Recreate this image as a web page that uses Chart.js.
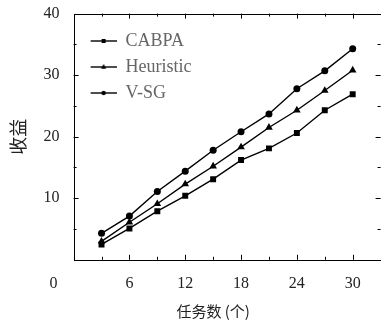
<!DOCTYPE html>
<html lang="zh-CN">
<head>
<meta charset="UTF-8">
<title>收益</title>
<script src="https://cdn.jsdelivr.net/npm/chart.js"></script>
<style>
  html, body { margin: 0; padding: 0; background: #fff; overflow: hidden; }
  #wrap { width: 385px; height: 325px; }
</style>
</head>
<body>
<div id="wrap"><canvas id="chart" width="385" height="325"></canvas></div>
<script>
// 数据
const taskCounts = [3, 6, 9, 12, 15, 18, 21, 24, 27, 30];
const cabpa     = [2.5, 5.1, 7.9, 10.4, 13.1, 16.2, 18.1, 20.6, 24.3, 26.9];
const heuristic = [3.0, 6.1, 9.1, 12.3, 15.2, 18.3, 21.5, 24.3, 27.5, 30.8];
const vsg       = [4.3, 7.1, 11.1, 14.4, 17.8, 20.8, 23.7, 27.8, 30.7, 34.3];
const seriesNames = ['CABPA', 'Heuristic', 'V-SG'];
const xTickLabels = [6, 12, 18, 24, 30];
const yTickLabels = [10, 20, 30, 40];

const serif = "'Liberation Serif', 'DejaVu Serif', serif";
const cjk = "'Noto Sans CJK SC', sans-serif";

function toPoints(ys) {
  return taskCounts.map((x, i) => ({ x: x, y: ys[i] }));
}

// 图例里的 线+标记 小图
function legendSwatch(style) {
  const c = document.createElement('canvas');
  c.width = 35; c.height = 10;
  const g = c.getContext('2d');
  g.strokeStyle = '#000'; g.fillStyle = '#000'; g.lineWidth = 1.4;
  g.beginPath(); g.moveTo(9, 5); g.lineTo(35, 5); g.stroke();
  g.beginPath();
  if (style === 'rect') g.rect(20, 3, 4, 4);
  else if (style === 'triangle') { g.moveTo(22, 2); g.lineTo(24.6, 6.8); g.lineTo(19.4, 6.8); g.closePath(); }
  else g.arc(22, 5, 2.2, 0, Math.PI * 2);
  g.fill();
  return c;
}

const styles = ['rect', 'triangle', 'circle'];
const radii = [4.2, 4.4, 3.5];
const values = [cabpa, heuristic, vsg];

// 向内的刻度、边框、x 轴标题
const framePlugin = {
  id: 'frame',
  afterDraw(chart) {
    const { ctx, chartArea: a, scales: { x, y } } = chart;
    ctx.save();
    ctx.strokeStyle = '#000';
    ctx.lineWidth = 1;
    ctx.strokeRect(Math.round(a.left) + 0.5, Math.round(a.top) + 0.5,
                   Math.round(a.right - a.left), Math.round(a.bottom - a.top));
    ctx.beginPath();
    for (let v = 3; v <= 30; v += 3) {
      const px = Math.round(x.getPixelForValue(v)) + 0.5;
      const len = v % 6 === 0 ? 5 : 3;
      ctx.moveTo(px, a.bottom); ctx.lineTo(px, a.bottom - len);
      ctx.moveTo(px, a.top); ctx.lineTo(px, a.top + len);
    }
    for (let v = 5; v < 40; v += 5) {
      const py = Math.round(y.getPixelForValue(v)) + 0.5;
      const len = v % 10 === 0 ? 5 : 3;
      ctx.moveTo(a.left, py); ctx.lineTo(a.left + len, py);
      ctx.moveTo(a.right, py); ctx.lineTo(a.right - len, py);
    }
    ctx.stroke();

    ctx.fillStyle = '#222';
    ctx.font = '16px ' + serif;
    ctx.textAlign = 'center';
    ctx.textBaseline = 'middle';
    ctx.fillText('0', x.getPixelForValue(0) - 20, 283.5);
    ctx.font = '15px ' + cjk;
    ctx.fillText('任务数 (个)', x.getPixelForValue(15), 311);
    ctx.restore();
  }
};

new Chart(document.getElementById('chart'), {
  type: 'line',
  data: {
    datasets: seriesNames.map((name, i) => ({
      label: name,
      data: toPoints(values[i]),
      borderColor: '#000',
      backgroundColor: '#000',
      borderWidth: 1.4,
      pointStyle: styles[i],
      pointRadius: radii[i],
      pointBorderWidth: 0,
      tension: 0
    }))
  },
  options: {
    responsive: false,
    animation: false,
    layout: { padding: { left: 0, right: 2, top: 5, bottom: 18 } },
    plugins: {
      tooltip: { enabled: false },
      legend: {
        position: 'chartArea',
        align: 'start',
        title: { display: true, text: ' ', font: { size: 5 }, padding: 9 },
        labels: {
          usePointStyle: true,
          pointStyleWidth: 35,
          padding: 8,
          color: '#111',
          font: { family: serif, size: 18 },
          generateLabels: (chart) => chart.data.datasets.map((ds, i) => ({
            text: ds.label,
            pointStyle: legendSwatch(styles[i]),
            fillStyle: '#000',
            strokeStyle: '#000',
            lineWidth: 0,
            hidden: false,
            datasetIndex: i
          }))
        }
      }
    },
    scales: {
      x: {
        type: 'linear',
        min: 0,
        max: 33,
        afterBuildTicks: (s) => { s.ticks = xTickLabels.map(v => ({ value: v })); },
        grid: { display: false, drawTicks: false },
        border: { display: false },
        ticks: { color: '#222', padding: 14, maxRotation: 0, font: { family: serif, size: 16 } }
      },
      y: {
        min: 0,
        max: 40,
        afterBuildTicks: (s) => { s.ticks = yTickLabels.map(v => ({ value: v })); },
        grid: { display: false, drawTicks: true, tickLength: 10 },
        border: { display: false },
        ticks: { color: '#222', padding: 4, font: { family: serif, size: 16 } },
        title: {
          display: true,
          text: '收益',
          color: '#222',
          font: { family: cjk, size: 18 },
          padding: { top: 7, bottom: 11 }
        }
      }
    }
  },
  plugins: [framePlugin]
});
</script>
</body>
</html>
